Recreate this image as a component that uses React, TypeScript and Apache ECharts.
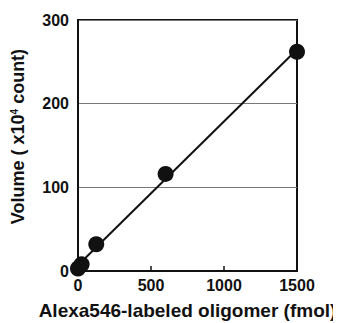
import React, { useEffect, useRef } from "react";
import * as echarts from "echarts";

const amounts = [0, 25, 125, 600, 1500];
const volumes = [3, 8, 32, 116, 262];
const xTicks = [0, 500, 1000, 1500];
const yTicks = [0, 100, 200, 300];

function fitLine(xs: number[], ys: number[]) {
  const n = xs.length;
  const mx = xs.reduce((a, b) => a + b, 0) / n;
  const my = ys.reduce((a, b) => a + b, 0) / n;
  let sxy = 0, sxx = 0;
  for (let i = 0; i < n; i++) {
    sxy += (xs[i] - mx) * (ys[i] - my);
    sxx += (xs[i] - mx) * (xs[i] - mx);
  }
  const k = sxy / sxx;
  const b = my - k * mx;
  return (x: number) => k * x + b;
}

export default function App() {
  const ref = useRef<HTMLDivElement>(null);
  useEffect(() => {
    const chart = echarts.init(ref.current!, null, { renderer: "svg" });
    const f = fitLine(amounts, volumes);
    const x0 = Math.min(...amounts);
    const x1 = Math.max(...amounts);
    const font = "'Liberation Sans', Arial, sans-serif";
    chart.setOption({
      animation: false,
      backgroundColor: "#fff",
      grid: {
        left: 78,
        right: 44,
        top: 20,
        bottom: 52,
        show: true,
        borderColor: "#111",
        borderWidth: 2,
        backgroundColor: "transparent",
        containLabel: false,
        outerBoundsMode: "none",
      },
      xAxis: {
        type: "value",
        min: xTicks[0],
        max: xTicks[xTicks.length - 1],
        interval: 500,
        name: "Alexa546-labeled oligomer (fmol)",
        nameLocation: "middle",
        nameGap: 30,
        nameTextStyle: { fontFamily: font, fontWeight: "bold", fontSize: 19, color: "#111" },
        axisLine: { show: true, lineStyle: { color: "#111", width: 2 } },
        axisTick: { show: true, inside: true, length: 5, lineStyle: { color: "#111", width: 1.5 } },
        axisLabel: {
          fontFamily: font, fontWeight: "bold", fontSize: 16, color: "#111", margin: 6,
          formatter: (v: number) => String(v),
        },
        splitLine: { show: false },
      },
      yAxis: {
        type: "value",
        min: yTicks[0],
        max: yTicks[yTicks.length - 1],
        interval: 100,
        name: "{a|Volume ( x10}{s|4}{a| count)}",
        nameLocation: "middle",
        nameGap: 51,
        nameTextStyle: {
          padding: [0, 0, 0, 18],
          rich: {
            a: { fontFamily: font, fontWeight: "bold", fontSize: 18, color: "#111" },
            s: { fontFamily: font, fontWeight: "bold", fontSize: 10, color: "#111", verticalAlign: "top", padding: [0, 0, 8, 0] },
          },
        },
        axisLine: { show: true, lineStyle: { color: "#111", width: 2 } },
        axisTick: { show: false },
        axisLabel: { fontFamily: font, fontWeight: "bold", fontSize: 16, color: "#111", margin: 9 },
        splitLine: { show: true, lineStyle: { color: "#777", width: 1 } },
      },
      series: [
        {
          type: "line",
          data: [[x0, f(x0)], [x1, f(x1)]],
          showSymbol: false,
          symbol: "none",
          lineStyle: { color: "#111", width: 2 },
          silent: true,
        },
        {
          type: "scatter",
          data: amounts.map((a, i) => [a, volumes[i]]),
          symbol: "circle",
          symbolSize: 16,
          itemStyle: { color: "#111", opacity: 1 },
        },
      ],
    });
    return () => chart.dispose();
  }, []);
  return <div ref={ref} style={{ width: 341, height: 323, marginLeft: -8, marginTop: -8 }} />;
}
